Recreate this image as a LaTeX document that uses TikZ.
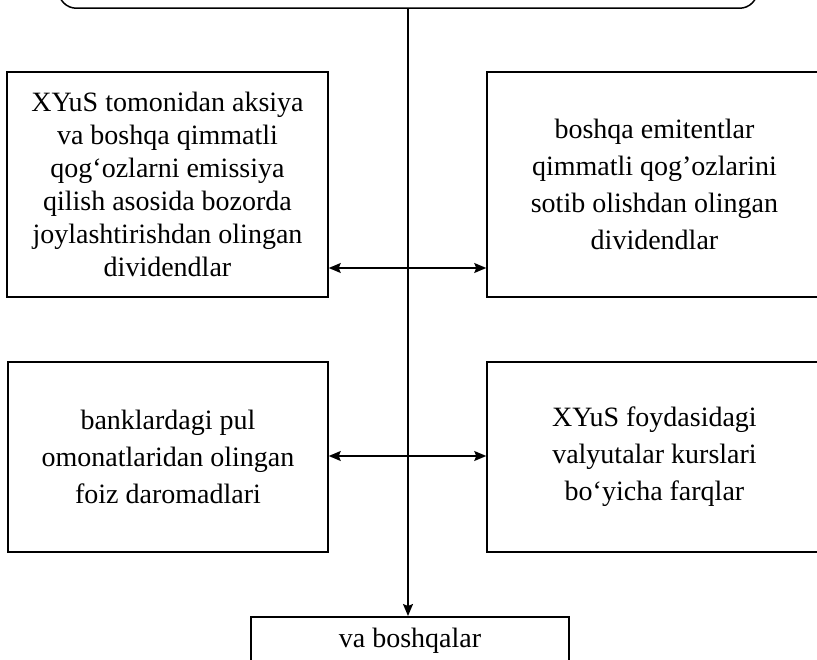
\documentclass[tikz,border=0pt]{standalone}
\usepackage{fontspec}
\setmainfont{Liberation Serif}
\usetikzlibrary{arrows.meta}

\begin{document}
\begin{tikzpicture}[>={Stealth[length=12pt,width=10pt,inset=2pt]}, x=1pt, y=-1pt,
    every node/.style={font=\fontsize{28}{37}\selectfont},
    box/.style={draw, line width=1.5pt, align=center, inner sep=0pt},
    link/.style={line width=1.3pt}]
    \useasboundingbox (0,0) rectangle (817,660);
    % top box, only its lower edge is seen
    \node[box, rounded corners=18pt, anchor=south, minimum width=699pt, minimum height=80pt] (top) at (408,9) {};
    % upper row
    \node[box, minimum width=321pt, minimum height=225pt, font=\fontsize{28}{33}\selectfont] (aksiya) at (167.5,184.5)
    {XYuS tomonidan aksiya\\ va boshqa qimmatli\\ qog‘ozlarni emissiya\\ qilish asosida bozorda\\ joylashtirishdan olingan\\ dividendlar};
    \node[box, minimum width=335pt, minimum height=225pt] (emitent) at (654.5,184.5)
    {boshqa emitentlar\\ qimmatli qog’ozlarini\\ sotib olishdan olingan\\ dividendlar};
    % lower row
    \node[box, minimum width=320pt, minimum height=190pt] (foiz) at (168,457)
    {banklardagi pul\\ omonatlaridan olingan\\ foiz daromadlari};
    \node[box, minimum width=335pt, minimum height=190pt] (kurs) at (654.5,457)
    {XYuS foydasidagi\\ valyutalar kurslari\\ bo‘yicha farqlar};
    % bottom box
    \node[box, anchor=north, minimum width=318pt, inner ysep=6pt, text height=25pt, text depth=40pt] (boshqa) at (410,616)
    {va boshqalar};
    % connectors
    \coordinate (rowA) at (408,268);
    \coordinate (rowB) at (408,456);
    \draw[link, ->] (top.south) -- (top.south |- boshqa.north);
    \draw[link, <->] (aksiya.east |- rowA) -- (emitent.west |- rowA);
    \draw[link, <->] (foiz.east |- rowB) -- (kurs.west |- rowB);
\end{tikzpicture}
\end{document}
